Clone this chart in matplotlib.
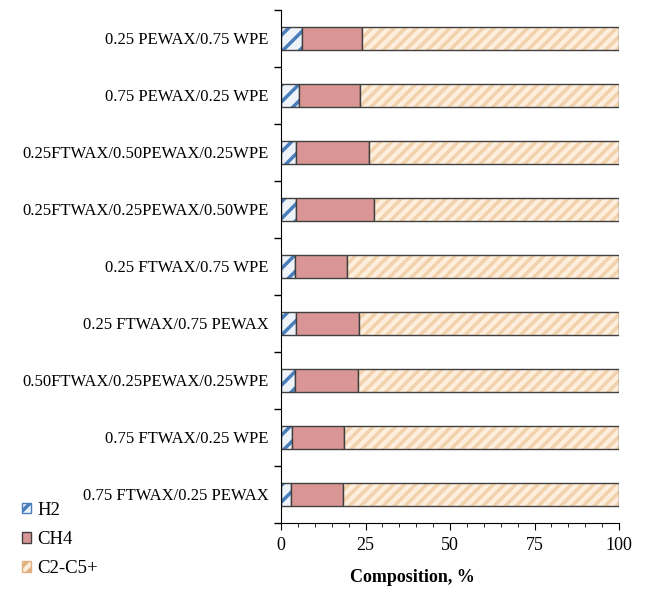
import numpy as np
import matplotlib.pyplot as plt
from matplotlib.patches import Patch
from matplotlib.ticker import MultipleLocator, FixedLocator

plt.rcParams['font.family'] = ['Liberation Serif', 'DejaVu Serif']
plt.rcParams['hatch.linewidth'] = 2.5

blends = ['0.25 PEWAX/0.75 WPE', '0.75 PEWAX/0.25 WPE',
          '0.25FTWAX/0.50PEWAX/0.25WPE', '0.25FTWAX/0.25PEWAX/0.50WPE',
          '0.25 FTWAX/0.75 WPE', '0.25 FTWAX/0.75 PEWAX',
          '0.50FTWAX/0.25PEWAX/0.25WPE', '0.75 FTWAX/0.25 WPE',
          '0.75 FTWAX/0.25 PEWAX']
h2 = np.array([6.1, 5.4, 4.4, 4.4, 4.2, 4.4, 4.2, 3.3, 2.9])
ch4 = np.array([17.8, 18.0, 21.7, 23.0, 15.3, 18.6, 18.7, 15.4, 15.4])
c2c5 = 100 - h2 - ch4

fig = plt.figure(figsize=(6.46, 5.9), dpi=100)
ax = fig.add_axes([0.435, 0.1136, 0.5232, 0.8695])

y = np.arange(len(blends))
hgt = 0.4

# H2: white with blue diagonal stripes
ax.barh(y, h2, height=hgt, color='#eef3fa', edgecolor='#4a7ebb', hatch='//', linewidth=0)
ax.barh(y, h2, height=hgt, fill=False, edgecolor='#404040', linewidth=1.0)
# CH4
ax.barh(y, ch4, left=h2, height=hgt, color='#d99694', edgecolor='#404040', linewidth=1.0)
# C2-C5+
ax.barh(y, c2c5, left=h2 + ch4, height=hgt, color='#fdeedd', edgecolor='#f2d2ac', hatch='///', linewidth=0)
ax.barh(y, c2c5, left=h2 + ch4, height=hgt, fill=False, edgecolor='#404040', linewidth=1.0)

ax.set_xlim(0, 100)
ax.set_ylim(len(blends) - 0.5, -0.5)
ax.set_yticks(y)
ax.set_yticklabels(blends, fontsize=12)
ax.tick_params(axis='y', length=0, pad=9)
ax.yaxis.set_minor_locator(FixedLocator(np.arange(-0.5, len(blends), 1)))
ax.tick_params(axis='y', which='minor', length=5, width=1)
ax.xaxis.set_major_locator(MultipleLocator(25))
ax.xaxis.set_minor_locator(MultipleLocator(5))
ax.tick_params(axis='x', which='major', length=5, labelsize=13, pad=5)
ax.tick_params(axis='x', which='minor', length=3)
for s in ['top', 'right']:
    ax.spines[s].set_visible(False)
ax.set_xlabel('Composition, %', fontsize=13, fontweight='bold')
ax.xaxis.set_label_coords(0.39, -0.09)

handles = [Patch(facecolor='#eef3fa', edgecolor='#4a7ebb', hatch='//'),
           Patch(facecolor='#d99694', edgecolor='#404040'),
           Patch(facecolor='#fdeedd', edgecolor='#e0b080', hatch='///')]
fig.legend(handles, ['H2', 'CH4', 'C2-C5+'], loc='lower left', bbox_to_anchor=(0.034, 0.022),
           frameon=False, fontsize=13.5, handlelength=0.5, handleheight=0.5,
           handletextpad=0.3, labelspacing=0.65, borderpad=0, borderaxespad=0)

fig.savefig('out.png', dpi=100)
